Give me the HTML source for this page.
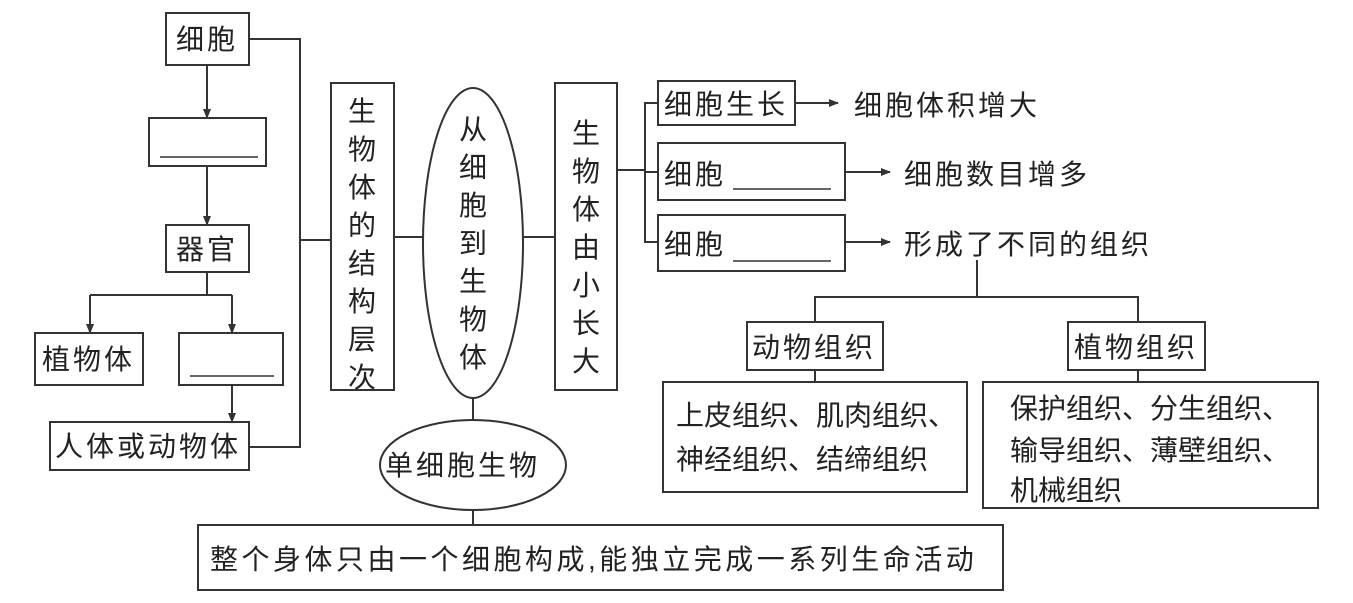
<!DOCTYPE html>
<html><head><meta charset="utf-8"><style>
html,body{margin:0;padding:0;background:#fff;}
svg{display:block;}
text{font-family:"Liberation Sans","Noto Sans CJK SC",sans-serif;font-size:28px;fill:#222;letter-spacing:3px;}
.n{letter-spacing:0;}
</style></head><body>
<svg width="1353" height="603" viewBox="0 0 1353 603" xmlns="http://www.w3.org/2000/svg">
<defs><marker id="a" markerWidth="10" markerHeight="8" refX="9" refY="4" orient="auto" markerUnits="userSpaceOnUse"><path d="M0,0 L10,4 L0,8 z" fill="#333"/></marker></defs>
<g stroke="#333" stroke-width="2" fill="none">
<rect x="166" y="13" width="83" height="52"/>
<rect x="149" y="118" width="117" height="48"/>
<rect x="166" y="225" width="83" height="47"/>
<rect x="35" y="333" width="108" height="52"/>
<rect x="179" y="333" width="104" height="52"/>
<rect x="50" y="422" width="199" height="48"/>
<rect x="331" y="83" width="63" height="307"/>
<ellipse cx="473" cy="243" rx="50" ry="155"/>
<rect x="555" y="83" width="62" height="307"/>
<rect x="658" y="81" width="137" height="44"/>
<rect x="658" y="143" width="187" height="57"/>
<rect x="658" y="215" width="187" height="56"/>
<rect x="747" y="322" width="136" height="48"/>
<rect x="1068" y="322" width="137" height="48"/>
<rect x="663" y="382" width="304" height="110"/>
<rect x="983" y="382" width="335" height="126"/>
<ellipse cx="473" cy="465" rx="93" ry="45"/>
<rect x="198" y="525" width="805" height="65"/>
<line x1="207" y1="65" x2="207" y2="118" marker-end="url(#a)"/>
<line x1="207" y1="166" x2="207" y2="225" marker-end="url(#a)"/>
<polyline points="207,272 207,295"/>
<line x1="90" y1="295" x2="232" y2="295"/>
<line x1="90" y1="295" x2="90" y2="333" marker-end="url(#a)"/>
<line x1="232" y1="295" x2="232" y2="333" marker-end="url(#a)"/>
<line x1="232" y1="385" x2="232" y2="422" marker-end="url(#a)"/>
<polyline points="249,39 300,39 300,447 249,447"/>
<line x1="300" y1="240" x2="331" y2="240"/>
<line x1="394" y1="237" x2="423" y2="237"/>
<line x1="523" y1="237" x2="555" y2="237"/>
<line x1="473" y1="398" x2="473" y2="420"/>
<line x1="473" y1="510" x2="473" y2="525"/>
<line x1="617" y1="170" x2="645" y2="170"/>
<polyline points="658,103 645,103 645,242 658,242"/>
<line x1="645" y1="172" x2="658" y2="172"/>
<line x1="795" y1="103" x2="838" y2="103" marker-end="url(#a)"/>
<line x1="845" y1="172" x2="890" y2="172" marker-end="url(#a)"/>
<line x1="845" y1="242" x2="890" y2="242" marker-end="url(#a)"/>
<line x1="977" y1="260" x2="977" y2="297"/>
<polyline points="815,322 815,297 1138,297 1138,322"/>
<line x1="815" y1="370" x2="815" y2="382"/>
<line x1="1138" y1="370" x2="1138" y2="382"/>
<line x1="160" y1="157" x2="258" y2="157" stroke-width="1.5"/>
<line x1="190" y1="376" x2="274" y2="376" stroke-width="1.5"/>
<line x1="733" y1="189" x2="831" y2="189" stroke-width="1.5"/>
<line x1="733" y1="261" x2="831" y2="261" stroke-width="1.5"/>
</g>
<text x="176" y="49">细胞</text>
<text x="176" y="259">器官</text>
<text x="42" y="369">植物体</text>
<text x="55" y="456">人体或动物体</text>
<g text-anchor="middle" class="n">
<text class="n" x="362" y="121">生</text><text class="n" x="362" y="159">物</text><text class="n" x="362" y="197">体</text><text class="n" x="362" y="235">的</text><text class="n" x="362" y="273">结</text><text class="n" x="362" y="311">构</text><text class="n" x="362" y="349">层</text><text class="n" x="362" y="387">次</text>
<text class="n" x="473" y="139">从</text><text class="n" x="473" y="177">细</text><text class="n" x="473" y="215">胞</text><text class="n" x="473" y="253">到</text><text class="n" x="473" y="291">生</text><text class="n" x="473" y="329">物</text><text class="n" x="473" y="367">体</text>
<text class="n" x="586" y="143">生</text><text class="n" x="586" y="181">物</text><text class="n" x="586" y="219">体</text><text class="n" x="586" y="257">由</text><text class="n" x="586" y="295">小</text><text class="n" x="586" y="333">长</text><text class="n" x="586" y="371">大</text>
</g>
<text x="385" y="475">单细胞生物</text>
<text x="664" y="114">细胞生长</text>
<text x="854" y="115">细胞体积增大</text>
<text x="664" y="184">细胞</text>
<text x="904" y="184">细胞数目增多</text>
<text x="664" y="254">细胞</text>
<text x="904" y="254">形成了不同的组织</text>
<text x="752" y="357">动物组织</text>
<text x="1074" y="357">植物组织</text>
<text class="n" x="676" y="425">上皮组织、肌肉组织、</text>
<text class="n" x="676" y="469">神经组织、结缔组织</text>
<text class="n" x="1010" y="418">保护组织、分生组织、</text>
<text class="n" x="1010" y="460">输导组织、薄壁组织、</text>
<text class="n" x="1010" y="500">机械组织</text>
<text x="210" y="569" style="letter-spacing:3.5px">整个身体只由一个细胞构成,能独立完成一系列生命活动</text>
</svg>
</body></html>
